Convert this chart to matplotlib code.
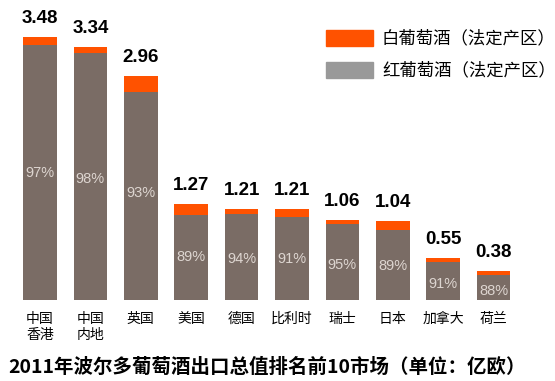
import matplotlib.pyplot as plt
from matplotlib.patches import Rectangle

# datos del gráfico
mercados = ['中国\n香港', '中国\n内地', '英国', '美国', '德国', '比利时', '瑞士', '日本', '加拿大', '荷兰']
totales = [3.48, 3.34, 2.96, 1.27, 1.21, 1.21, 1.06, 1.04, 0.55, 0.38]
pct_tinto = [97, 98, 93, 89, 94, 91, 95, 89, 91, 88]
etiquetas_leyenda = ['白葡萄酒（法定产区）', '红葡萄酒（法定产区）']
titulo = '2011年波尔多葡萄酒出口总值排名前10市场（单位：亿欧）'

COLOR_TINTO = '#7a6c65'
COLOR_BLANCO = '#ff5200'
CJK = ['Noto Sans CJK SC', 'DejaVu Sans']

W, H = 555, 381
fig = plt.figure(figsize=(W / 100, H / 100), dpi=100)
base_px = 81      # baseline (px from bottom)
escala = 75.6     # px per unit
ax = fig.add_axes([0, base_px / H, 1, (H - base_px) / H])
ax.set_xlim(-40 / 50.4, (W - 40) / 50.4)
ax.set_ylim(0, (H - base_px) / escala)
ax.axis('off')

tinto = [t * p / 100 for t, p in zip(totales, pct_tinto)]
blanco = [t - r for t, r in zip(totales, tinto)]
x = list(range(len(mercados)))

ax.bar(x, tinto, width=0.67, color=COLOR_TINTO)
ax.bar(x, blanco, bottom=tinto, width=0.67, color=COLOR_BLANCO)

for i in x:
    ax.text(i, totales[i] + 10 / escala, f'{totales[i]:.2f}', ha='center', va='bottom',
            fontsize=13.5, fontweight='bold', family='Liberation Sans')
    ax.text(i, totales[i] / 2 - 5 / escala, f'{pct_tinto[i]}%', ha='center', va='center',
            fontsize=10.5, color='#ddd5d0', family='Liberation Sans')
    ax.text(i, -12 / escala, mercados[i], ha='center', va='top', fontsize=10,
            family=CJK, linespacing=1.15, clip_on=False)

# leyenda manual
for k, (col, lab) in enumerate(zip([COLOR_BLANCO, '#999999'], etiquetas_leyenda)):
    y_top = 30 + k * 32
    fig.patches.append(Rectangle((326 / W, 1 - (y_top + 16) / H), 47 / W, 16 / H,
                                 transform=fig.transFigure, color=col))
    fig.text(382 / W, 1 - (y_top + 8) / H, lab, ha='left', va='center',
             fontsize=12.5, family=CJK)

fig.text(8 / W, 1 - 367 / H, titulo, ha='left', va='center', fontsize=14,
         fontweight='bold', family=CJK)

fig.savefig('out.png', dpi=100)
